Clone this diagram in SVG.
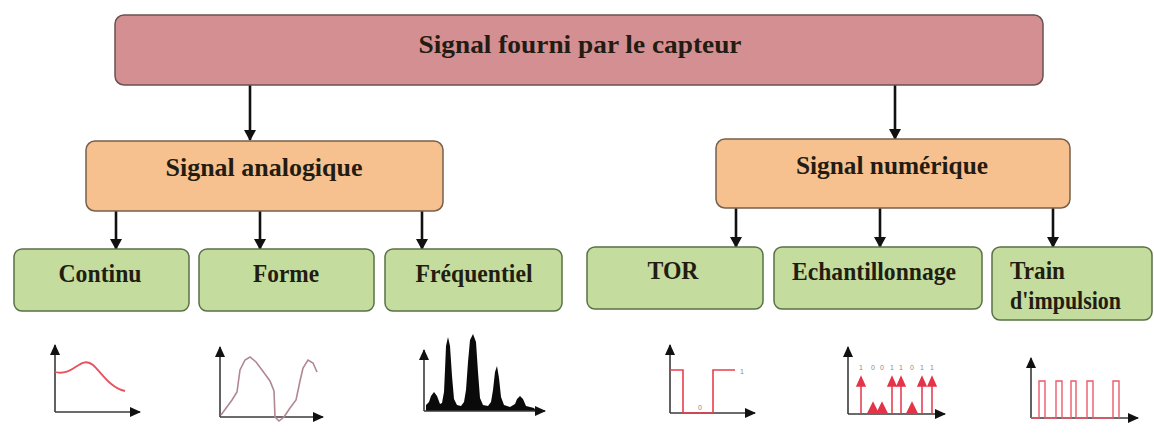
<svg xmlns="http://www.w3.org/2000/svg" width="1154" height="434" viewBox="0 0 1154 434">
<defs>
<style>
.lbl{font-family:"Liberation Serif","Times New Roman",serif;font-weight:bold;font-size:25px;fill:#231c12}
.top{fill:#d48f92;stroke:#6a5252;stroke-width:1.5}
.mid{fill:#f6c18f;stroke:#76604c;stroke-width:1.5}
.leaf{fill:#c4dc9d;stroke:#5a7045;stroke-width:1.5}
.conn{stroke:#111;stroke-width:2.6;fill:none;marker-end:url(#arr)}
.axis{stroke:#3a3a3a;stroke-width:1.6;fill:none;marker-end:url(#ax)}
.tiny{font-family:"Liberation Sans",Arial,sans-serif;font-size:7px;fill:#8a8a8a}
</style>
<marker id="arr" markerUnits="userSpaceOnUse" markerWidth="12" markerHeight="12" refX="10" refY="6" orient="auto">
<path d="M0,0 L11,6 L0,12 Z" fill="#111"/>
</marker>
<marker id="ax" markerUnits="userSpaceOnUse" markerWidth="12" markerHeight="10" refX="10" refY="5" orient="auto">
<path d="M0,0 L11,5 L0,10 Z" fill="#111"/>
</marker>
</defs>
<rect width="1154" height="434" fill="#fff"/>

<g id="connectors">
<line class="conn" x1="250" y1="85" x2="250" y2="140"/>
<line class="conn" x1="895" y1="85" x2="895" y2="139"/>
<line class="conn" x1="116" y1="211" x2="116" y2="249"/>
<line class="conn" x1="260" y1="211" x2="260" y2="249"/>
<line class="conn" x1="422" y1="211" x2="422" y2="249"/>
<line class="conn" x1="736" y1="208" x2="736" y2="247"/>
<line class="conn" x1="880" y1="208" x2="880" y2="247"/>
<line class="conn" x1="1053" y1="208" x2="1053" y2="247"/>
</g>

<g id="node-capteur">
<rect class="top" x="115" y="15" width="928" height="70" rx="9"/>
<text class="lbl" x="580" y="53" text-anchor="middle" textLength="323" lengthAdjust="spacingAndGlyphs">Signal fourni par le capteur</text>
</g>
<g id="node-analogique">
<rect class="mid" x="86" y="141" width="357" height="70" rx="9"/>
<text class="lbl" x="264" y="176" text-anchor="middle" textLength="197" lengthAdjust="spacingAndGlyphs">Signal analogique</text>
</g>
<g id="node-numerique">
<rect class="mid" x="716" y="139" width="354" height="69" rx="9"/>
<text class="lbl" x="892" y="174" text-anchor="middle" textLength="192" lengthAdjust="spacingAndGlyphs">Signal numérique</text>
</g>
<g id="node-continu">
<rect class="leaf" x="14" y="249" width="175" height="62" rx="8"/>
<text class="lbl" x="100" y="282" text-anchor="middle" textLength="83" lengthAdjust="spacingAndGlyphs">Continu</text>
</g>
<g id="node-forme">
<rect class="leaf" x="199" y="249" width="175" height="62" rx="8"/>
<text class="lbl" x="286" y="282" text-anchor="middle" textLength="66" lengthAdjust="spacingAndGlyphs">Forme</text>
</g>
<g id="node-frequentiel">
<rect class="leaf" x="385" y="249" width="177" height="62" rx="8"/>
<text class="lbl" x="474" y="282" text-anchor="middle" textLength="117" lengthAdjust="spacingAndGlyphs">Fréquentiel</text>
</g>
<g id="node-tor">
<rect class="leaf" x="587" y="247" width="176" height="62" rx="8"/>
<text class="lbl" x="673" y="279" text-anchor="middle" textLength="51" lengthAdjust="spacingAndGlyphs">TOR</text>
</g>
<g id="node-echantillonnage">
<rect class="leaf" x="774" y="247" width="208" height="62" rx="8"/>
<text class="lbl" x="874" y="280" text-anchor="middle" textLength="164" lengthAdjust="spacingAndGlyphs">Echantillonnage</text>
</g>
<g id="node-train">
<rect class="leaf" x="992" y="247" width="160" height="73" rx="8"/>
<text class="lbl" x="1010" y="279" textLength="55" lengthAdjust="spacingAndGlyphs">Train</text>
<text class="lbl" x="1010" y="309" textLength="111" lengthAdjust="spacingAndGlyphs">d'impulsion</text>
</g>

<g id="chart-continu">
<line class="axis" x1="55" y1="412" x2="55" y2="345"/>
<line class="axis" x1="55" y1="412" x2="140" y2="412"/>
<path d="M55,372 C62,374 68,372 74,368 C80,364 86,359 93,365 C101,372 110,388 125,391" fill="none" stroke="#e8505e" stroke-width="1.8"/>
</g>
<g id="chart-forme">
<line class="axis" x1="220" y1="417" x2="220" y2="347"/>
<line class="axis" x1="220" y1="417" x2="323" y2="417"/>
<path d="M221,415 L232,400 L237,392 L240,370 L245,360 L250,357 L256,362 L262,370 L270,381 L274,391 L275,417 L279,421 L284,417 L290,408 L296,400 L300,381 L303,368 L308,360 L313,363 L317,372" fill="none" stroke="#b08891" stroke-width="1.6"/>
</g>
<g id="chart-frequentiel">
<path d="M426,411 L426,405 L429,402 L431,396 L434,392 L437,396 L440,404 L442,403 L444,392 L445,370 L446,346 L448,337 L450,346 L452,376 L454,399 L457,405 L461,406 L464,402 L466,390 L468,362 L470,340 L473,334 L476,342 L478,372 L480,398 L483,405 L488,406 L491,402 L493,390 L495,372 L497,366 L499,378 L501,397 L504,405 L510,407 L515,404 L517,399 L520,396 L523,399 L526,406 L534,408 L536,411 Z" fill="#0a0a0a"/>
<line class="axis" x1="424" y1="411" x2="424" y2="350"/>
<line class="axis" x1="424" y1="411" x2="545" y2="411"/>
</g>
<g id="chart-tor">
<line class="axis" x1="670" y1="413" x2="670" y2="345"/>
<line class="axis" x1="670" y1="413" x2="755" y2="413"/>
<path d="M670,370 L683,370 L683,413 L713,413 L713,370 L735,370" fill="none" stroke="#e6404f" stroke-width="1.6"/>
<text class="tiny" x="740" y="374">1</text>
<text class="tiny" x="698" y="410">0</text>
</g>
<g id="chart-echantillonnage">
<line class="axis" x1="848" y1="414" x2="848" y2="347"/>
<line class="axis" x1="848" y1="414" x2="945" y2="414"/>
<g stroke="#e43448" stroke-width="1.5" fill="#e43448">
<line x1="861" y1="413" x2="861" y2="380"/><path d="M857,386 L861,377 L865,386 Z"/>
<path d="M868,413 L873,403 L878,413 Z"/>
<path d="M877,413 L882,403 L887,413 Z"/>
<line x1="892" y1="413" x2="892" y2="380"/><path d="M888,386 L892,377 L896,386 Z"/>
<line x1="901" y1="413" x2="901" y2="380"/><path d="M897,386 L901,377 L905,386 Z"/>
<path d="M907,413 L912,403 L917,413 Z"/>
<line x1="922" y1="413" x2="922" y2="380"/><path d="M918,386 L922,377 L926,386 Z"/>
<line x1="932" y1="413" x2="932" y2="380"/><path d="M928,386 L932,377 L936,386 Z"/>
</g>
<g class="tiny" text-anchor="middle">
<text x="861" y="370">1</text><text x="873" y="370">0</text><text x="882" y="370">0</text><text x="892" y="370">1</text><text x="901" y="370">1</text><text x="912" y="370">0</text><text x="922" y="370">1</text><text x="932" y="370">1</text>
</g>
</g>
<g id="chart-train">
<line class="axis" x1="1031" y1="418" x2="1031" y2="358"/>
<line class="axis" x1="1031" y1="418" x2="1138" y2="418"/>
<path d="M1031,418 L1039,418 L1039,381 L1045,381 L1045,418 L1056,418 L1056,381 L1062,381 L1062,418 L1071,418 L1071,381 L1076,381 L1076,418 L1087,418 L1087,381 L1093,381 L1093,418 L1113,418 L1113,381 L1119,381 L1119,418" fill="none" stroke="#ec5a6a" stroke-width="1.4"/>
</g>
</svg>
